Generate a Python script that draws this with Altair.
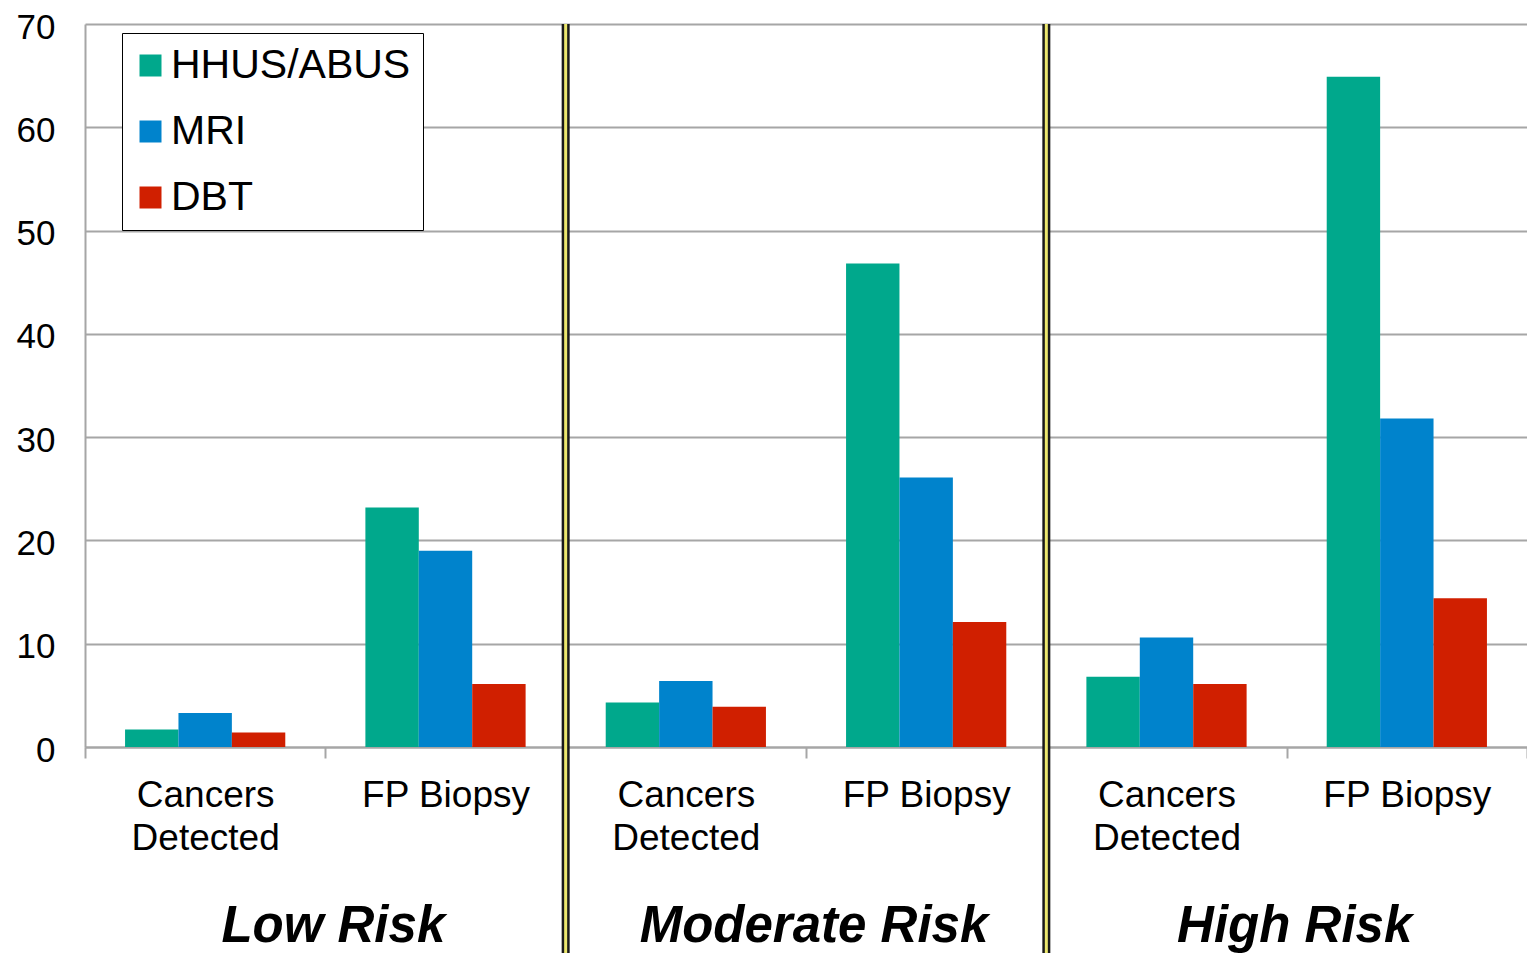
import altair as alt
import pandas as pd

risks = ["Low Risk", "Moderate Risk", "High Risk"]
measures = ["Cancers Detected", "FP Biopsy"]
series = ["HHUS/ABUS", "MRI", "DBT"]
hhus = [1.7, 23.2, 4.3, 46.8, 6.8, 64.9]
mri = [3.3, 19.0, 6.4, 26.1, 10.6, 31.8]
dbt = [1.4, 6.1, 3.9, 12.1, 6.1, 14.4]
colors = ["#00A88C", "#0083CC", "#D01F00"]
y_ticks = [0, 10, 20, 30, 40, 50, 60, 70]

cats = [f"{r}|{m}" for r in risks for m in measures]
rows = []
for s, vals in zip(series, [hhus, mri, dbt]):
    for c, v in zip(cats, vals):
        rows.append({"cat": c, "series": s, "value": v})
df = pd.DataFrame(rows)

# separators after the last measure of the first two risk groups
sep_df = pd.DataFrame({"cat": [cats[1], cats[3]], "value": [70, 70], "bottom": [0, 0]})
# group labels sit at the boundary between the two measures of each risk group
grp_df = pd.DataFrame({"cat": [cats[1], cats[3], cats[5]], "label": risks, "value": [0, 0, 0]})

W, H = 1442, 723
FONT = "Liberation Sans"
GRID = "#A6A6A6"

x_scale = alt.Scale(domain=cats, paddingInner=0, paddingOuter=0)
y_scale = alt.Scale(domain=[0, 70])

x_axis = alt.Axis(
    title=None,
    orient="bottom",
    labelExpr="!isString(datum.value) ? '' : (indexof(datum.value, 'Cancers') >= 0 ? ['Cancers', 'Detected'] : 'FP Biopsy')",
    labelAngle=0,
    tickBand="extent",
    labelFontSize=37,
    labelLineHeight=43,
    labelPadding=19,
    labelColor="black",
    labelFont=FONT,
    domainColor=GRID,
    domainWidth=2,
    tickColor=GRID,
    tickWidth=2,
    tickSize=11,
    grid=False,
)
y_axis = alt.Axis(
    title=None,
    orient="left",
    values=y_ticks,
    ticks=False,
    grid=True,
    gridColor=GRID,
    gridWidth=2,
    domainColor=GRID,
    domainWidth=2,
    labelFontSize=35,
    labelPadding=30,
    labelOffset=3,
    labelColor="black",
    labelFont=FONT,
)

bars = alt.Chart(df).mark_bar().encode(
    x=alt.X("cat:N", scale=x_scale, sort=cats, axis=x_axis),
    xOffset=alt.XOffset("series:N", sort=series,
                        scale=alt.Scale(domain=series, paddingInner=0, paddingOuter=0.75)),
    y=alt.Y("value:Q", scale=y_scale, axis=y_axis),
    color=alt.Color(
        "series:N",
        sort=series,
        scale=alt.Scale(domain=series, range=colors),
        legend=alt.Legend(
            title=None,
            orient="none",
            legendX=37,
            legendY=9,
            strokeColor="black",
            fillColor="white",
            padding=12,
            rowPadding=24,
            symbolType="square",
            symbolSize=484,
            symbolStrokeWidth=0,
            symbolOpacity=1,
            symbolOffset=-4,
            labelFontSize=41,
            labelFont=FONT,
            labelColor="black",
            labelOffset=0,
            labelLimit=0,
        ),
    ),
)

sep_black = alt.Chart(sep_df).mark_rule(color="#1A1A1A", strokeWidth=8, y2Offset=225).encode(
    x=alt.X("cat:N", scale=x_scale, sort=cats, bandPosition=1, axis=x_axis),
    y=alt.Y("value:Q", scale=y_scale, axis=y_axis),
    y2="bottom:Q",
)
sep_yellow = alt.Chart(sep_df).mark_rule(color="#ECE76E", strokeWidth=3, y2Offset=225).encode(
    x=alt.X("cat:N", scale=x_scale, sort=cats, bandPosition=1, axis=x_axis),
    y=alt.Y("value:Q", scale=y_scale, axis=y_axis),
    y2="bottom:Q",
)

grp_text = alt.Chart(grp_df).mark_text(
    fontSize=51, fontWeight="bold", fontStyle="italic", font=FONT,
    align="center", baseline="alphabetic", dy=195, dx=8, color="black",
).encode(
    x=alt.X("cat:N", scale=x_scale, sort=cats, bandPosition=0, axis=x_axis),
    y=alt.Y("value:Q", scale=y_scale, axis=y_axis),
    text="label:N",
)

chart = alt.layer(bars, sep_black, sep_yellow, grp_text).properties(
    width=W,
    height=H,
    autosize=alt.AutoSizeParams(type="none"),
    padding={"left": 77, "top": 16, "right": 0, "bottom": 206},
).configure(font=FONT).configure_view(stroke=None)

chart.save("out.html", embed_options={"renderer": "svg", "actions": False})
